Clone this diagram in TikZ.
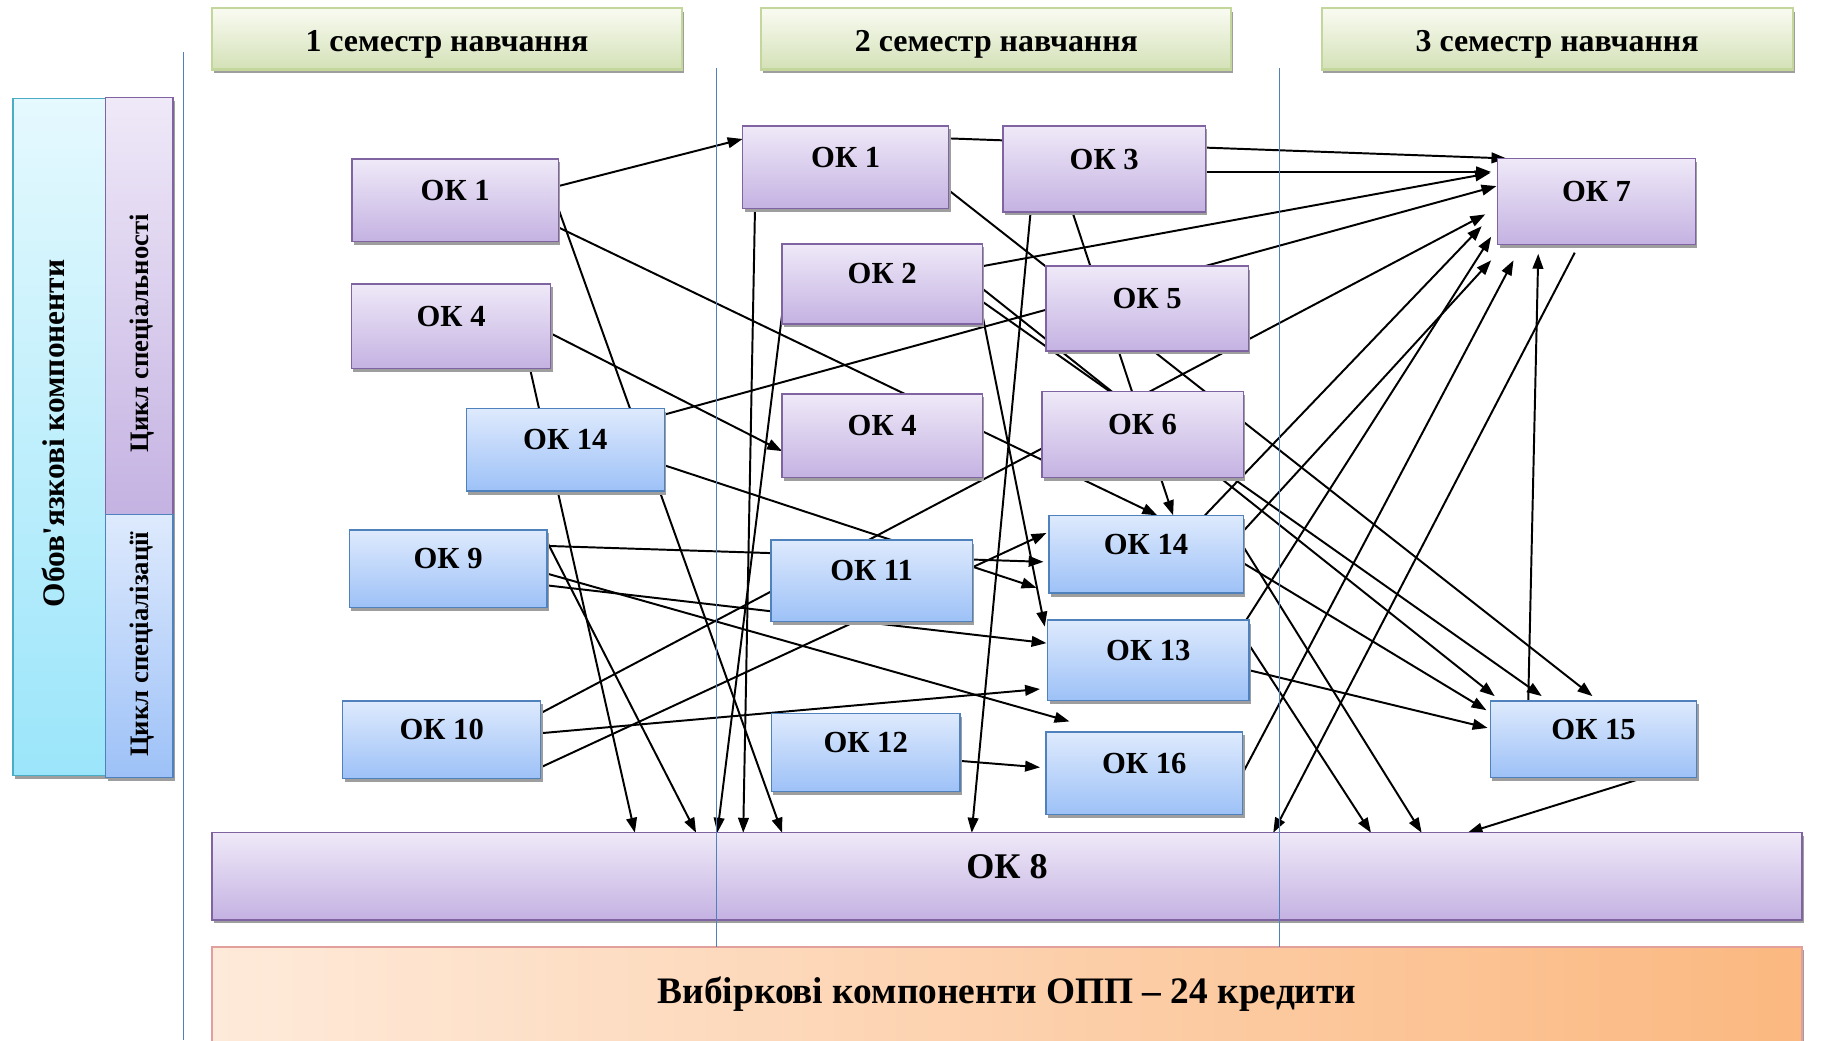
\documentclass[tikz,border=0pt]{standalone}
\usepackage{fontspec}
\setmainfont{Liberation Serif}
\usetikzlibrary{arrows.meta,calc,shadows}

\definecolor{fiolRam}{RGB}{128,100,162}
\definecolor{fiolVerh}{RGB}{239,233,248}
\definecolor{fiolNyz}{RGB}{196,178,226}
\definecolor{blakRam}{RGB}{79,129,189}
\definecolor{blakVerh}{RGB}{222,234,253}
\definecolor{blakNyz}{RGB}{157,193,247}
\definecolor{zelRam}{RGB}{195,214,155}
\definecolor{zelVerh}{RGB}{249,251,242}
\definecolor{zelNyz}{RGB}{212,225,183}
\definecolor{cyanRam}{RGB}{75,172,198}
\definecolor{cyanVerh}{RGB}{229,249,254}
\definecolor{cyanNyz}{RGB}{155,229,250}
\definecolor{persRam}{RGB}{226,160,156}
\definecolor{persLiv}{RGB}{254,234,218}
\definecolor{persPrav}{RGB}{251,184,128}
\definecolor{rozdil}{RGB}{79,129,189}

\pgfdeclarelayer{bg}
\pgfsetlayers{bg,main}

\tikzset{
  ten/.style={drop shadow={shadow xshift=1.2pt,shadow yshift=-2.2pt,fill=black!38,opacity=1}},
  rozm/.style 2 args={minimum width=#1*0.75pt,minimum height=#2*0.75pt},
  korobka/.style={inner sep=0pt,outer sep=0pt,line width=0.9pt,ten},
  napys/.style={font=\fontsize{19.5}{22}\selectfont\bfseries,text height=13.5pt,text depth=13.5pt},
  fiol/.style={korobka,draw=fiolRam,top color=fiolVerh,bottom color=fiolNyz,napys},
  blak/.style={korobka,draw=blakRam,top color=blakVerh,bottom color=blakNyz,napys},
  semestr/.style={korobka,draw=zelRam,line width=1.3pt,top color=zelVerh,bottom color=zelNyz,
    font=\fontsize{20.3}{23}\selectfont\bfseries,text height=21pt,text depth=4.4pt},
  vtext/.style={rotate=90,inner sep=0pt},
  strilka/.style={line width=1.25pt,-{Triangle[length=9.5pt,width=6.8pt]}},
  liniya/.style={draw=rozdil,line width=0.8pt}
}

\begin{document}
\begin{tikzpicture}[x=0.75pt,y=0.75pt,yscale=-1,xscale=1]
\useasboundingbox (0,0) rectangle (1569,883);

% semesters
\node[semestr,rozm={399}{52}] (sem1) at (379.5,33) {1 семестр навчання};
\node[semestr,rozm={399}{52}] (sem2) at (846,33) {2 семестр навчання};
\node[semestr,rozm={400}{52}] (sem3) at (1322,33) {3 семестр навчання};

% left column
\node[korobka,draw=cyanRam,top color=cyanVerh,bottom color=cyanNyz,rozm={79}{575}] (oboviaz) at (50.5,371) {};
\node[fiol,rozm={57}{354}] (cyklspec) at (118.3,260) {};
\node[blak,rozm={57}{223}] (cyklspz) at (118.3,548.5) {};
\node[vtext,font=\fontsize{20}{22}\selectfont\bfseries] (oboviazT) at (45,368) {Обов\textquotesingle язкові компоненти};
\node[vtext,font=\fontsize{17}{20}\selectfont\bfseries] (cyklspecT) at (121,283) {Цикл спеціальності};
\node[vtext,font=\fontsize{17}{20}\selectfont\bfseries] (cyklspzT) at (121,547) {Цикл спеціалізації};

% semester 1
\node[fiol,rozm={175}{70}] (s1ok1) at (386.5,170) {ОК 1};
\node[fiol,rozm={169}{72}] (s1ok4) at (383,277) {ОК 4};
\node[blak,rozm={168}{70}] (s1ok14) at (480,382) {ОК 14};
\node[blak,rozm={168}{66}] (s1ok9) at (380.5,483) {ОК 9};
\node[blak,rozm={168}{66}] (s1ok10) at (375,628) {ОК 10};

% semester 2
\node[fiol,rozm={175}{70}] (s2ok1) at (718,142) {ОК 1};
\node[fiol,rozm={172}{73}] (s2ok3) at (937.5,143.5) {ОК 3};
\node[fiol,rozm={170}{68}] (s2ok2) at (749,241) {ОК 2};
\node[fiol,rozm={172}{72}] (s2ok5) at (974,262) {ОК 5};
\node[fiol,rozm={170}{71}] (s2ok4) at (749,370) {ОК 4};
\node[fiol,rozm={171}{73}] (s2ok6) at (970,369) {ОК 6};
\node[blak,rozm={171}{69}] (s2ok11) at (740,493) {ОК 11};
\node[blak,rozm={165}{66}] (s2ok14) at (973,470.5) {ОК 14};
\node[blak,rozm={171}{68}] (s2ok13) at (975,560.5) {ОК 13};
\node[blak,rozm={160}{66}] (s2ok12) at (735,639) {ОК 12};
\node[blak,rozm={167}{70}] (s2ok16) at (971.5,656.5) {ОК 16};

% semester 3
\node[fiol,rozm={168}{73}] (s3ok7) at (1355.5,171) {ОК 7};
\node[blak,rozm={175}{65}] (s3ok15) at (1353,627.5) {ОК 15};

% bottom rows
\node[fiol,rozm={1350}{74},font=\fontsize{23}{26}\selectfont\bfseries,text height=15.2pt,text depth=12pt] (ok8) at (855,744) {ОК 8};
\node[korobka,draw=persRam,left color=persLiv,right color=persPrav,rozm={1350}{80},
  font=\fontsize{23.8}{27}\selectfont\bfseries] (vybir) at (855,844) {Вибіркові компоненти ОПП -- 24 кредити};

% links
\begin{pgfonlayer}{bg}
\draw[strilka] ($(s1ok1.north east)+(0,23)$) -- ($(s2ok1.north west)+(0,11)$);
\draw[strilka] ($(s1ok1.north east)+(0,42)$) -- ($(ok8.north west)+(484,0)$);
\draw[strilka] ($(s1ok1.north east)+(0,58)$) -- ($(s2ok14.north west)+(92,0)$);
\draw[strilka] ($(s1ok4.south west)+(151.5,0)$) -- ($(ok8.north west)+(359,0)$);
\draw[strilka] ($(s1ok4.north east)+(0,42)$) -- ($(s2ok4.north west)+(0,48.5)$);
\draw[strilka] ($(s1ok14.north east)+(0,5)$) -- ($(s3ok7.north west)+(-1,23.5)$);
\draw[strilka] ($(s1ok14.north east)+(0,48)$) -- ($(s2ok14.south west)+(-10.5,-4.5)$);
\draw[strilka] ($(s1ok9.north east)+(0,10)$) -- ($(ok8.north west)+(411,0)$);
\draw[strilka] ($(s1ok9.north east)+(0,13.5)$) -- ($(s2ok14.north west)+(-4.5,39.5)$);
\draw[strilka] ($(s1ok9.north east)+(0,37)$) -- ($(s2ok16.north west)+(20,-9)$);
\draw[strilka] ($(s1ok9.north east)+(0,47)$) -- ($(s2ok13.north west)+(-1,19.5)$);
\draw[strilka] ($(s1ok10.north east)+(0,10.5)$) -- ($(s3ok7.north west)+(-10.5,47.5)$);
\draw[strilka] ($(s1ok10.north east)+(0,27.5)$) -- ($(s2ok13.north west)+(-6.5,58.5)$);
\draw[strilka] ($(s1ok10.north east)+(0,56.5)$) -- ($(s2ok14.north west)+(-2,15)$);
\draw[strilka] ($(s2ok1.north east)+(0,10.5)$) -- ($(s3ok7.north west)+(7.5,0)$);
\draw[strilka] ($(s2ok1.south west)+(10.5,0)$) -- ($(ok8.north west)+(451,0)$);
\draw[strilka] ($(s2ok1.north east)+(0,54.5)$) -- ($(s3ok15.north west)+(86.5,-4)$);
\draw[strilka] ($(s2ok3.north east)+(0,39)$) -- ($(s3ok7.north west)+(-5.5,11.5)$);
\draw[strilka] ($(s2ok3.south west)+(23.5,0)$) -- ($(ok8.north west)+(645,0)$);
\draw[strilka] ($(s2ok3.south west)+(59,0)$) -- ($(s2ok14.north west)+(105.5,0)$);
\draw[strilka] ($(s2ok2.north east)+(0,19)$) -- ($(s3ok7.north west)+(-6.5,12.5)$);
\draw[strilka] ($(s2ok2.north east)+(0,38)$) -- ($(s3ok15.north west)+(3.5,-4)$);
\draw[strilka] ($(s2ok2.north east)+(0,49)$) -- ($(s3ok15.north west)+(43.5,-4)$);
\draw[strilka] ($(s2ok2.north east)+(0,60)$) -- ($(s2ok13.north west)+(-2.5,5.5)$);
\draw[strilka] ($(s2ok2.north west)+(0,60)$) -- ($(ok8.north west)+(429,0)$);
\draw[strilka] ($(s2ok14.north west)+(132.5,0)$) -- ($(s3ok7.south west)+(-13.5,-15.5)$);
\draw[strilka] ($(s2ok14.north east)+(0,13.5)$) -- ($(s3ok7.south west)+(-5.5,13.5)$);
\draw[strilka] ($(s2ok14.north east)+(0,26.5)$) -- ($(ok8.north west)+(1027,0)$);
\draw[strilka] ($(s2ok14.north east)+(0,40.5)$) -- ($(s3ok15.north west)+(-3.5,8)$);
\draw[strilka] ($(s2ok13.north east)+(-2.5,0)$) -- ($(s3ok7.south west)+(-5.5,-6.5)$);
\draw[strilka] ($(s2ok13.north east)+(0,21)$) -- ($(ok8.north west)+(984,0)$);
\draw[strilka] ($(s2ok13.north east)+(0,42.5)$) -- ($(s3ok15.north west)+(-2.5,23)$);
\draw[strilka] ($(s2ok16.north east)+(0,35)$) -- ($(s3ok7.south west)+(13.5,13.5)$);
\draw[strilka] ($(s2ok12.north east)+(0,40)$) -- ($(s2ok16.north west)+(-5,30)$);
\draw[strilka] ($(s3ok15.north west)+(32,0)$) -- ($(s3ok7.south west)+(34.5,8)$);
\draw[strilka] ($(s3ok15.south west)+(131,0)$) -- ($(ok8.north west)+(1066,0)$);
\draw[strilka] ($(s3ok7.south west)+(65.5,7)$) -- ($(ok8.north west)+(901,0)$);
\end{pgfonlayer}

% semester borders
\draw[liniya] (156,44) -- (156,883);
\draw[liniya] (608.3,58) -- (608.3,803.6);
\draw[liniya] (1086.6,58) -- (1086.6,803.6);

\end{tikzpicture}
\end{document}
